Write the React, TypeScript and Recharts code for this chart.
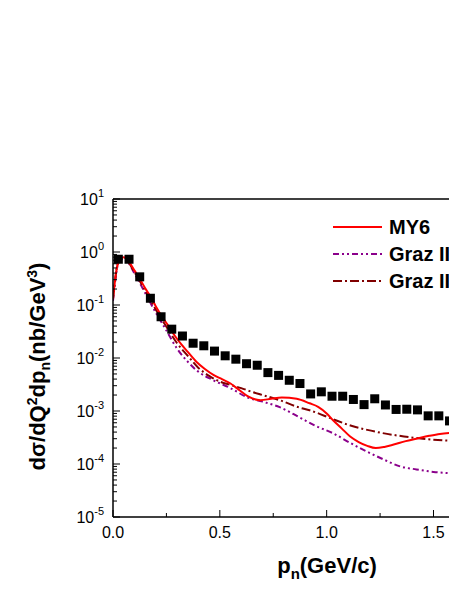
import React from 'react'
import {
  ComposedChart, Line, Scatter, XAxis, YAxis, Legend,
} from 'recharts'

// measured points (black squares)
const DATA_X = [
  0.025, 0.075, 0.125, 0.175, 0.225, 0.275, 0.325, 0.375, 0.425, 0.475, 0.525,
  0.575, 0.625, 0.675, 0.725, 0.775, 0.825, 0.875, 0.925, 0.975, 1.025, 1.075,
  1.125, 1.175, 1.225, 1.275, 1.325, 1.375, 1.425, 1.475, 1.525, 1.575,
]
const DATA_Y = [
  0.73, 0.73, 0.34, 0.134, 0.06, 0.035, 0.026, 0.019, 0.017, 0.0135, 0.011,
  0.0095, 0.0078, 0.0073, 0.0053, 0.0047, 0.0038, 0.0033, 0.0021, 0.0023, 0.0019, 0.0019,
  0.00165, 0.00132, 0.0017, 0.0013, 0.00107, 0.00108, 0.00105, 0.00081, 0.00081, 0.00065,
]

// MY6 (red solid)
const MY6_X = [
  0, 0.01, 0.02, 0.035, 0.05, 0.07, 0.1, 0.12, 0.15, 0.175, 0.2, 0.23, 0.26, 0.29,
  0.32, 0.35, 0.39, 0.43, 0.47, 0.51, 0.55, 0.59, 0.63, 0.69, 0.74, 0.79, 0.86,
  0.92, 0.96, 1.0, 1.03, 1.07, 1.11, 1.15, 1.19, 1.23, 1.27, 1.31, 1.37, 1.42,
  1.48, 1.53, 1.61,
]
const MY6_Y = [
  0.13, 0.3, 0.55, 0.75, 0.8, 0.7, 0.45, 0.34, 0.21, 0.145, 0.095, 0.06, 0.04, 0.026,
  0.018, 0.013, 0.0085, 0.0062, 0.0048, 0.004, 0.0033, 0.0025, 0.0019, 0.0016, 0.0017, 0.0018, 0.0017,
  0.0014, 0.0012, 0.0009, 0.00067, 0.00047, 0.00033, 0.00026, 0.00022, 0.0002, 0.00021, 0.00023, 0.00027, 0.0003,
  0.00034, 0.00037, 0.00039,
]

// Graz II (purple dash-dot-dot)
const GRAZ_A_X = [
  0, 0.01, 0.02, 0.035, 0.05, 0.07, 0.1, 0.15, 0.2, 0.25, 0.3, 0.35, 0.39, 0.47,
  0.55, 0.63, 0.7, 0.78, 0.875, 0.95, 1.03, 1.11, 1.19, 1.27, 1.34, 1.42, 1.5, 1.61,
]
const GRAZ_A_Y = [
  0.12, 0.28, 0.52, 0.7, 0.74, 0.64, 0.4, 0.17, 0.072, 0.033, 0.015, 0.0085, 0.0059, 0.0038,
  0.0027, 0.0018, 0.0015, 0.00118, 0.00075, 0.00052, 0.00038, 0.00025, 0.00017, 0.00012, 0.000091, 0.000079, 0.000071, 0.000066,
]

// Graz II (dark red dash-dot)
const GRAZ_B_X = [
  0, 0.01, 0.02, 0.035, 0.05, 0.07, 0.1, 0.15, 0.2, 0.25, 0.3, 0.35, 0.4, 0.45,
  0.5, 0.55, 0.6, 0.65, 0.7, 0.78, 0.875, 0.92, 1.03, 1.1, 1.19, 1.34, 1.45, 1.61,
]
const GRAZ_B_Y = [
  0.13, 0.3, 0.55, 0.72, 0.76, 0.66, 0.42, 0.19, 0.082, 0.039, 0.019, 0.011, 0.0065, 0.0046,
  0.0036, 0.0031, 0.0027, 0.0023, 0.002, 0.0016, 0.00115, 0.00103, 0.0007, 0.00055, 0.00044, 0.00034, 0.0003, 0.00027,
]

const X_TICKS = [0, 0.25, 0.5, 0.75, 1, 1.25, 1.5]
const X_LABELED = [0, 0.5, 1, 1.5]
const Y_DECADES = [-5, -4, -3, -2, -1, 0, 1]
const Y_MINOR_STEPS = [2, 3, 4, 5, 6, 7, 8, 9]

const zip = (xs: number[], ys: number[]) => xs.map((x, i) => ({ x, y: ys[i] }))

const points = zip(DATA_X, DATA_Y)
const my6 = zip(MY6_X, MY6_Y)
const grazA = zip(GRAZ_A_X, GRAZ_A_Y)
const grazB = zip(GRAZ_B_X, GRAZ_B_Y)

const yTicks: number[] = []
Y_DECADES.forEach(d => {
  yTicks.push(Math.pow(10, d))
  if (d < 1) Y_MINOR_STEPS.forEach(m => yTicks.push(m * Math.pow(10, d)))
})

const FONT = '"Liberation Sans", Arial, Helvetica, sans-serif'
const PURPLE = '#8B008B'
const MAROON = '#800000'
const DASH_A = '6 3 2 3 2 3'
const DASH_B = '9 3 2 3'

const YTick = (props: any) => {
  const { x, y, payload } = props
  const v = payload.value
  const lg = Math.log10(v)
  const exp = Math.round(lg)
  const major = Math.abs(lg - exp) < 1e-6
  return (
    <g>
      <line x1={x} x2={x + (major ? 7 : 4)} y1={y} y2={y} stroke="#000" strokeWidth={1} />
      {major && (
        <text x={x - 9} y={y + 6} textAnchor="end" fontFamily={FONT} fontSize={16} fill="#000">
          10<tspan dy={-8} fontSize={11}>{exp}</tspan>
        </text>
      )}
    </g>
  )
}

const XTick = (props: any) => {
  const { x, y, payload } = props
  const major = X_LABELED.includes(payload.value)
  return (
    <g>
      <line x1={x} x2={x} y1={y} y2={y - (major ? 7 : 4)} stroke="#000" strokeWidth={1} />
      {major && (
        <text x={x} y={y + 21} textAnchor="middle" fontFamily={FONT} fontSize={16} fill="#000">
          {payload.value.toFixed(1)}
        </text>
      )}
    </g>
  )
}

const TopTick = (props: any) => {
  const { x, y, payload } = props
  const major = X_LABELED.includes(payload.value)
  return <line x1={x} x2={x} y1={y} y2={y + (major ? 7 : 4)} stroke="#000" strokeWidth={1} />
}

const YTitle = (props: any) => {
  const vb = props.viewBox || { x: 45, y: 191, width: 60, height: 318 }
  const cx = vb.x - 8.5
  const cy = vb.y + vb.height / 2 + 8.5
  return (
    <text x={cx} y={cy} transform={`rotate(-90, ${cx}, ${cy})`} textAnchor="middle"
      fontFamily={FONT} fontSize={22} fontWeight="bold" fill="#000">
      dσ/dQ<tspan dy={-8} fontSize={14}>2</tspan>
      <tspan dy={8}>dp</tspan>
      <tspan dy={5} fontSize={14}>n</tspan>
      <tspan dy={-5}>(nb/GeV</tspan>
      <tspan dy={-8} fontSize={14}>3</tspan>
      <tspan dy={8}>)</tspan>
    </text>
  )
}

const XTitle = (props: any) => {
  const vb = props.viewBox || { x: 105, y: 509, width: 344, height: 30 }
  return (
    <text x={vb.x + 214} y={vb.y + 56} textAnchor="middle"
      fontFamily={FONT} fontSize={22} fontWeight="bold" fill="#000">
      p<tspan dy={6} fontSize={15}>n</tspan>
      <tspan dy={-6}>(GeV/c)</tspan>
    </text>
  )
}

const LEGEND_ROWS = [
  { label: 'MY6', color: '#FF0000', dash: undefined },
  { label: 'Graz II', color: PURPLE, dash: DASH_A },
  { label: 'Graz II', color: MAROON, dash: DASH_B },
]

const LegendBox = () => (
  <svg width={130} height={80}>
    {LEGEND_ROWS.map((r, i) => (
      <g key={i}>
        <line x1={5} x2={54} y1={14 + i * 27} y2={14 + i * 27} stroke={r.color}
          strokeWidth={2} strokeDasharray={r.dash} />
        <text x={61} y={21 + i * 27} fontFamily={FONT} fontSize={20} fontWeight="bold" fill="#000">
          {r.label}
        </text>
      </g>
    ))}
  </svg>
)

const Square = (props: any) => {
  const { cx, cy } = props
  if (cx == null || cy == null) return null
  return <rect x={cx - 4.5} y={cy - 4.5} width={9} height={9} fill="#000" />
}

export default function App() {
  return (
    <div style={{ width: 449, height: 575, overflow: 'hidden' }}>
      <ComposedChart width={449} height={575} margin={{ top: 181, right: 0, bottom: 36, left: 45 }}>
        <XAxis xAxisId="top" orientation="top" type="number" domain={[0, 1.61]} allowDataOverflow
          ticks={X_TICKS} interval={0} height={10} tickSize={0} tickMargin={0}
          tick={<TopTick />} axisLine={{ stroke: '#000', strokeWidth: 1.5 }} tickLine={false} />
        <XAxis dataKey="x" type="number" domain={[0, 1.61]} allowDataOverflow
          ticks={X_TICKS} interval={0} height={30} tickSize={0} tickMargin={0}
          tick={<XTick />} axisLine={{ stroke: '#000', strokeWidth: 1.5 }} tickLine={false}
          label={<XTitle />} />
        <YAxis dataKey="y" scale="log" type="number" domain={[1e-5, 10]} allowDataOverflow
          ticks={yTicks} interval={0} width={60} tickSize={0} tickMargin={0}
          tick={<YTick />} axisLine={{ stroke: '#000', strokeWidth: 1.5 }} tickLine={false}
          label={<YTitle />} />
        <Legend content={<LegendBox />} layout="vertical" align="center" verticalAlign="middle"
          wrapperStyle={{ position: 'absolute', left: 320, top: 205, width: 130, height: 80 }} />
        <Line data={grazA} dataKey="y" type="monotone" stroke={PURPLE} strokeWidth={2}
          strokeDasharray={DASH_A} dot={false} isAnimationActive={false} />
        <Line data={grazB} dataKey="y" type="monotone" stroke={MAROON} strokeWidth={2}
          strokeDasharray={DASH_B} dot={false} isAnimationActive={false} />
        <Line data={my6} dataKey="y" type="monotone" stroke="#FF0000" strokeWidth={2}
          dot={false} isAnimationActive={false} />
        <Scatter data={points} dataKey="y" shape={<Square />} isAnimationActive={false} />
      </ComposedChart>
    </div>
  )
}
